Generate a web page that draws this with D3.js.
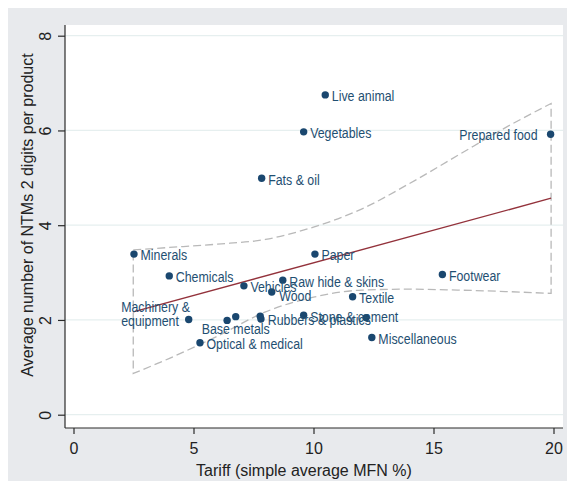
<!DOCTYPE html>
<html><head><meta charset="utf-8">
<script src="https://cdn.jsdelivr.net/npm/d3@7/dist/d3.min.js"></script>
<style>body{margin:0;background:#fff}svg{display:block}</style>
</head><body><svg id="chart" width="567" height="487"></svg>
<script>
// ---- data ----
const labels = ["Live animal","Vegetables","Fats & oil","Prepared food","Minerals","Paper","Chemicals",
  "Raw hide & skins","Vehicles","Wood","Footwear","Textile","Machinery &\nequipment","","Base metals",
  "Rubbers & plastics","","Stone & cement","","Miscellaneous","Optical & medical"];
const tariff = [10.49, 9.59, 7.84, 19.88, 2.52, 10.06, 3.99, 8.72, 7.10, 8.26, 15.37, 11.63, 4.80, 6.40, 6.76,
  7.78, 7.81, 9.59, 12.19, 12.43, 5.27];
const ntms = [6.75, 5.97, 4.99, 5.92, 3.39, 3.39, 2.93, 2.84, 2.72, 2.59, 2.96, 2.49, 2.01, 1.99, 2.07,
  2.08, 2.02, 2.10, 2.05, 1.63, 1.52];
const labelClock = [3,3,3,9,3,3,3,3,3,4,3,3,10,3,6,4,3,3,3,3,3];
const fitX = [2.49, 19.9];
const fitY = [2.17, 4.57];
const ciX = [2.49, 4, 6, 8, 10, 12, 14, 16, 18, 19.9];
const ciUpper = [3.48, 3.53, 3.60, 3.70, 3.96, 4.34, 4.88, 5.47, 6.06, 6.57];
const ciLower = [0.87, 1.19, 1.66, 2.17, 2.48, 2.63, 2.65, 2.63, 2.60, 2.56];
const xTicks = [0, 5, 10, 15, 20];
const yTicks = [0, 2, 4, 6, 8];
const xTitle = "Tariff (simple average MFN %)";
const yTitle = "Average number of NTMs 2 digits per product";

// ---- layout ----
const svg = d3.select("#chart");
const plot = {left: 65, right: 563, top: 25, bottom: 428};
const x = d3.scaleLinear().domain([0, 20]).range([73.5, 553.5]);
const y = d3.scaleLinear().domain([0, 8]).range([414.7, 35.7]);
const FONT = "'Liberation Sans', Arial, sans-serif";
const navy = "#1a476f";

svg.append("rect").attr("x", 8).attr("y", 8).attr("width", 559).attr("height", 473).attr("fill", "#e8eaed");
svg.append("rect").attr("x", plot.left).attr("y", plot.top)
  .attr("width", plot.right - plot.left).attr("height", plot.bottom - plot.top).attr("fill", "#fff");

// grid
svg.append("g").selectAll("line").data(yTicks).join("line")
  .attr("x1", plot.left).attr("x2", plot.right)
  .attr("y1", d => y(d)).attr("y2", d => y(d))
  .attr("stroke", "#e6efef").attr("stroke-width", 1.2);

// axes
const gx = svg.append("g").attr("transform", `translate(0,${plot.bottom})`)
  .call(d3.axisBottom(x).tickValues(xTicks).tickSize(6).tickPadding(9).tickFormat(d3.format("d")));
const gy = svg.append("g").attr("transform", `translate(${plot.left},0)`)
  .call(d3.axisLeft(y).tickValues(yTicks).tickSize(7).tickPadding(10).tickFormat(d3.format("d")));
[gx, gy].forEach(g => {
  g.select(".domain").attr("stroke", "#2a2a2a").attr("stroke-width", 1.2);
  g.selectAll(".tick line").attr("stroke", "#2a2a2a").attr("stroke-width", 1.2);
  g.selectAll("text").attr("font-family", FONT).attr("font-size", 16).attr("fill", "#222");
});
gx.select(".domain").attr("d", `M${plot.left},0H${plot.right}`);
gy.select(".domain").attr("d", `M0,${plot.top}V${plot.bottom}`);
gy.selectAll(".tick text").attr("x", null).attr("dy", null)
  .attr("text-anchor", "middle")
  .attr("transform", "translate(-14.3,0) rotate(-90)");

// CI band
const lineU = d3.line().x(d => x(d[0])).y(d => y(d[1])).curve(d3.curveMonotoneX);
const up = ciX.map((v, i) => [v, ciUpper[i]]);
const lo = ciX.map((v, i) => [v, ciLower[i]]);
const pathD = lineU(up) + "L" + x(lo[lo.length-1][0]) + "," + y(lo[lo.length-1][1]) +
  lineU(lo.slice().reverse()).replace(/^M/, "L") + "Z";
svg.append("path").attr("d", pathD).attr("fill", "none")
  .attr("stroke", "#b9b9b9").attr("stroke-width", 1.3).attr("stroke-dasharray", "8,4");

// fit line
svg.append("path").datum(fitX.map((v, i) => [v, fitY[i]]))
  .attr("d", d3.line().x(d => x(d[0])).y(d => y(d[1])))
  .attr("stroke", "#93323b").attr("stroke-width", 1.4).attr("fill", "none");

// points
const pts = tariff.map((t, i) => ({t, n: ntms[i], label: labels[i], pos: labelClock[i]}));
svg.append("g").selectAll("circle").data(pts).join("circle")
  .attr("cx", d => x(d.t)).attr("cy", d => y(d.n)).attr("r", 3.7).attr("fill", navy);

// marker labels
const SQ = 0.885;
const lg = svg.append("g").attr("font-family", FONT).attr("font-size", 14).attr("fill", "#1f4f72");
pts.filter(d => d.label).forEach(d => {
  const cx = x(d.t), cy = y(d.n);
  const lines = d.label.split("\n");
  if (d.pos === 10) {
    const g = lg.append("g");
    const ts = lines.map((s, k) => g.append("text").attr("x", 0).attr("y", (k - lines.length + 1) * 14 + 5.7).text(s));
    const w = d3.max(ts, t => t.node().getComputedTextLength()) * SQ;
    g.attr("transform", `translate(${cx + 1.3 - w},${cy + 0.7}) scale(${SQ},1)`);
    return;
  }
  let dx = 6.5, dy = 1.4, anchor = "start";
  if (d.pos === 4) { dx = 7.5; dy = 4.3; }
  if (d.pos === 6) { dx = 0; dy = 12.3; anchor = "middle"; }
  if (d.pos === 9) { dx = -13; dy = 0.7; anchor = "end"; }
  lg.append("text").attr("text-anchor", anchor)
    .attr("transform", `translate(${cx + dx},${cy + dy + 5}) scale(${SQ},1)`)
    .text(lines[0]);
});

// axis titles
svg.append("text").attr("x", 304).attr("y", 476).attr("text-anchor", "middle")
  .attr("font-family", FONT).attr("font-size", 16).attr("fill", "#222").text(xTitle);
svg.append("text").attr("transform", "translate(33,215) rotate(-90)").attr("text-anchor", "middle")
  .attr("font-family", FONT).attr("font-size", 16).attr("fill", "#222").text(yTitle);
</script></body></html>
